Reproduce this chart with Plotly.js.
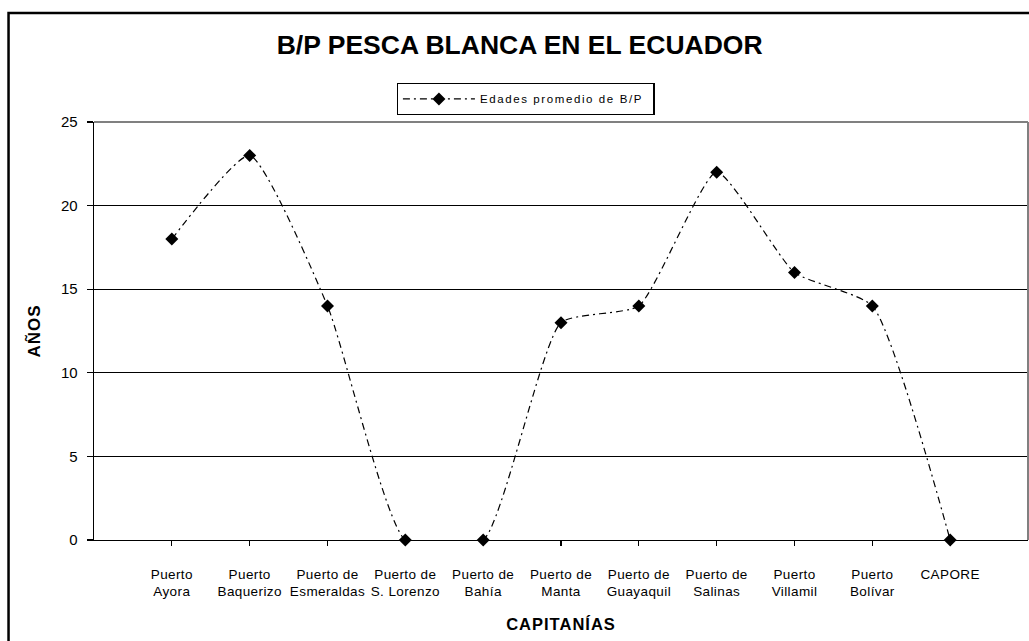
<!DOCTYPE html>
<html>
<head>
<meta charset="utf-8">
<script src="https://cdn.plot.ly/plotly-3.0.1.min.js"></script>
<style>
html,body{margin:0;padding:0;background:#fff;}
#chart{width:1029px;height:641px;}
#chart .legendtext{letter-spacing:1.6px;}
#chart .xtick text{letter-spacing:0.4px;}
#chart .g-xtitle text, #chart .g-ytitle text{letter-spacing:1px;}
</style>
</head>
<body>
<div id="chart"></div>
<script>
const categories = [
  "Puerto<br>Ayora", "Puerto<br>Baquerizo", "Puerto de<br>Esmeraldas", "Puerto de<br>S. Lorenzo",
  "Puerto de<br>Bahía", "Puerto de<br>Manta", "Puerto de<br>Guayaquil", "Puerto de<br>Salinas",
  "Puerto<br>Villamil", "Puerto<br>Bolívar", "CAPORE"
];
const edades = [18, 23, 14, 0, 0, 13, 14, 22, 16, 14, 0];
const seriesName = "Edades promedio de B/P";
const chartTitle = "B/P PESCA BLANCA EN EL ECUADOR";
const xTitle = "CAPITANÍAS";
const yTitle = "AÑOS";

const FONT = "Liberation Sans, Arial, sans-serif";

const trace = {
  x: categories,
  y: edades,
  name: seriesName,
  type: "scatter",
  mode: "lines+markers",
  line: {color: "#000", width: 1.2, dash: "7px,4px,2px,4px", shape: "spline", smoothing: 0.5},
  marker: {symbol: "diamond", size: 10, color: "#000"},
  cliponaxis: false
};

const layout = {
  width: 1029, height: 641,
  margin: {l: 94, r: 1, t: 122, b: 101},
  paper_bgcolor: "#fff", plot_bgcolor: "#fff",
  font: {family: FONT, color: "#000"},
  title: {
    text: "<b>" + chartTitle + "</b>",
    font: {family: FONT, size: 26.5, color: "#000"},
    xref: "container", x: 0.505, xanchor: "center",
    yref: "container", y: 0.93, yanchor: "middle"
  },
  showlegend: true,
  legend: {
    x: 0.324, xanchor: "left", y: 1.093, yanchor: "top",
    bordercolor: "#000", borderwidth: 1.3, bgcolor: "#fff",
    font: {family: FONT, size: 11.5, color: "#000"},
    orientation: "h",
    itemwidth: 72,
    entrywidth: 168,
    entrywidthmode: "pixels"
  },
  xaxis: {
    type: "category",
    range: [-1, 11],
    showgrid: false, zeroline: false,
    showline: true, linecolor: "#000", linewidth: 1.3,
    ticks: "outside", ticklen: 5, tickcolor: "#000", tickwidth: 1.3,
    tickfont: {family: FONT, size: 13.5, color: "#000"},
    ticklabelstandoff: 16,
    tickangle: 0,
    title: {text: "<b>" + xTitle + "</b>", font: {family: FONT, size: 16.5, color: "#000"}, standoff: 20},
    automargin: false
  },
  yaxis: {
    range: [0, 25], dtick: 5, tick0: 0,
    showgrid: true, gridcolor: "#000", gridwidth: 1,
    zeroline: false,
    showline: true, linecolor: "#000", linewidth: 1.3,
    ticks: "outside", ticklen: 6, tickcolor: "#000", tickwidth: 1.3,
    tickfont: {family: FONT, size: 15, color: "#000"},
    ticklabelstandoff: 6,
    title: {text: "<b>" + yTitle + "</b>", font: {family: FONT, size: 17, color: "#000"}, standoff: 16},
    automargin: false
  },
  shapes: [
    {type: "line", xref: "paper", yref: "paper", x0: 0, x1: 1, y0: 1, y1: 1, line: {color: "#808080", width: 2}, layer: "above"},
    {type: "line", xref: "paper", yref: "paper", x0: 1, x1: 1, y0: 0, y1: 1, line: {color: "#808080", width: 2}, layer: "above"},
    {type: "rect", xref: "paper", yref: "paper", x0: -0.0915, x1: 1.2, y0: -0.5, y1: 1.2608, line: {color: "#000", width: 2.5}, fillcolor: "rgba(0,0,0,0)", layer: "above"}
  ]
};

Plotly.newPlot("chart", [trace], layout, {displayModeBar: false, staticPlot: true});
</script>
</body>
</html>
